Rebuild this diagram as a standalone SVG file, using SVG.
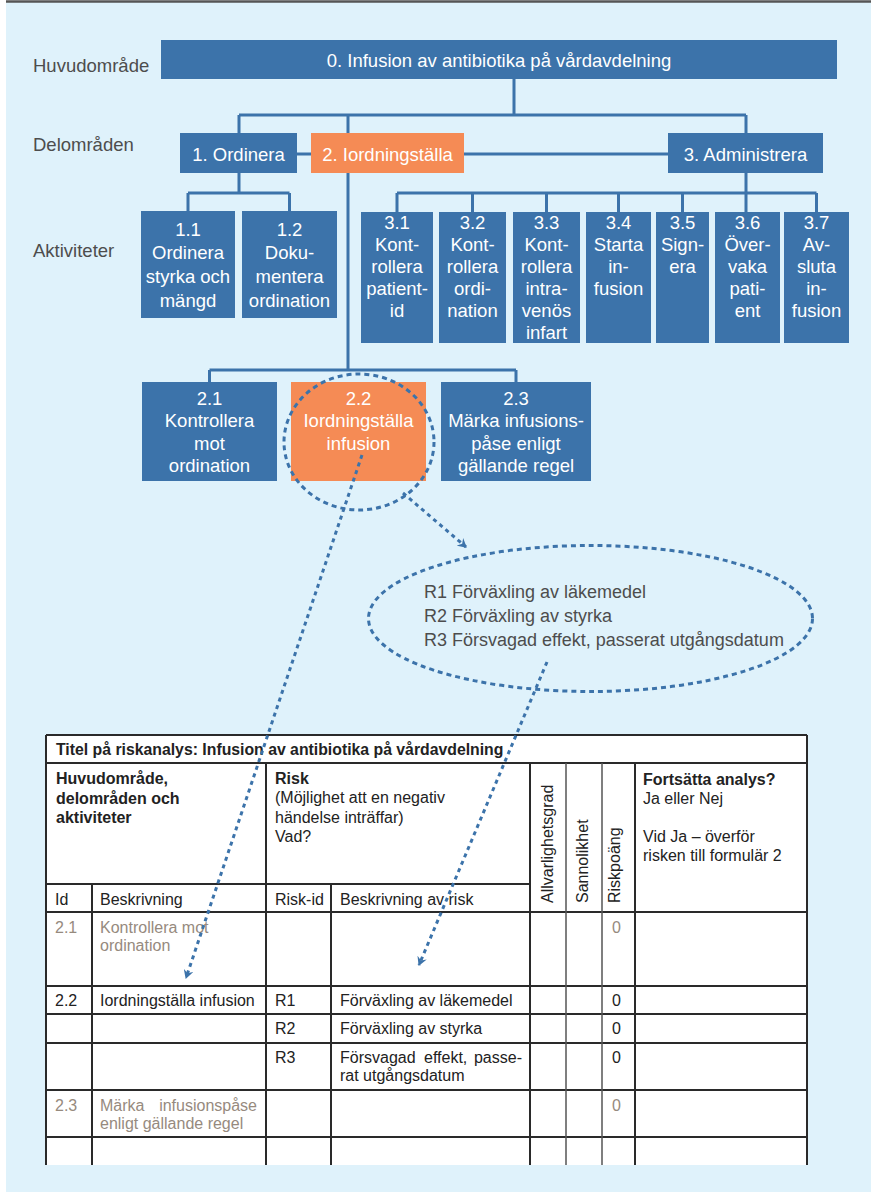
<svg xmlns="http://www.w3.org/2000/svg" width="871" height="1192" viewBox="0 0 871 1192">
<style>
.bg{fill:#dff2fb}
.box{fill:#3c73aa}
.obox{fill:#f58b55}
.bt{font-family:"Liberation Sans",Arial,sans-serif;font-size:18.5px;fill:#fff;text-anchor:middle}
.lbl{font-family:"Liberation Sans",Arial,sans-serif;font-size:18.5px;fill:#4d4d4d}
.rt{font-family:"Liberation Sans",Arial,sans-serif;font-size:18px;fill:#4d4d4d}
.con{fill:none;stroke:#3c73aa;stroke-width:3}
.dash{fill:none;stroke:#3c73aa;stroke-width:3;stroke-dasharray:5 4}
.dot{fill:none;stroke:#3c73aa;stroke-width:3;stroke-dasharray:4 4}
.tl{stroke:#2a2a2a;stroke-width:2;fill:none}
.tg{stroke:#555;stroke-width:1.5;fill:none}
.tt{font-family:"Liberation Sans",Arial,sans-serif;font-size:16px;fill:#222}
.tb{font-family:"Liberation Sans",Arial,sans-serif;font-size:16px;fill:#222;font-weight:bold}
.gr{fill:#968a7e}
</style>
<defs>
<marker id="arr" viewBox="0 0 10 10" refX="8" refY="5" markerWidth="10" markerHeight="10" markerUnits="userSpaceOnUse" orient="auto">
<path d="M0,0 L9,5 L0,10 L3,5 Z" fill="#3c73aa"/>
</marker>
</defs>
<rect class="bg" x="6" y="2" width="865" height="1190"/>
<line x1="6" y1="1.5" x2="871" y2="1.5" stroke="#555" stroke-width="2.5"/>

<g id="labels">
<text class="lbl" x="33" y="72">Huvudområde</text>
<text class="lbl" x="33" y="151">Delområden</text>
<text class="lbl" x="33" y="257">Aktiviteter</text>
</g>

<g id="connectors">
<path class="con" d="M514,79 V115 M239,115 H746 M239,115 V133 M348,115 V133 M746,115 V133"/>
<path class="con" d="M297,154 H311 M464,154 H668"/>
<path class="con" d="M239,173 V193 M188,193 H289.5 M188,193 V211 M289.5,193 V211"/>
<path class="con" d="M746,173 V193 M397,193 H816.5 M397,193 V212 M472.5,193 V212 M546.5,193 V212 M618.5,193 V212 M682.5,193 V212 M746,193 V212 M816.5,193 V212"/>
<path class="con" d="M348,173 V370 M209.5,370 H516 M209.5,370 V382 M516,370 V382"/>
</g>

<g id="n0"><rect class="box" x="161" y="40" width="676" height="39"/><text class="bt" x="499" y="67">0. Infusion av antibiotika på vårdavdelning</text></g>
<g id="n1"><rect class="box" x="180" y="133" width="117" height="40"/><text class="bt" x="238.5" y="161">1. Ordinera</text></g>
<g id="n2"><rect class="obox" x="311" y="133" width="153" height="40"/><text class="bt" x="387.5" y="161">2. Iordningställa</text></g>
<g id="n3"><rect class="box" x="668" y="133" width="155" height="40"/><text class="bt" x="745.5" y="161">3. Administrera</text></g>

<g id="n11"><rect class="box" x="141" y="211" width="94" height="107"/><text class="bt" x="188" y="235.5">1.1<tspan x="188" dy="23.7">Ordinera</tspan><tspan x="188" dy="23.7">styrka och</tspan><tspan x="188" dy="23.7">mängd</tspan></text></g>
<g id="n12"><rect class="box" x="242" y="211" width="95" height="107"/><text class="bt" x="289.5" y="235.5">1.2<tspan x="289.5" dy="23.7">Doku-</tspan><tspan x="289.5" dy="23.7">mentera</tspan><tspan x="289.5" dy="23.7">ordination</tspan></text></g>

<g id="n31"><rect class="box" x="361" y="212" width="72" height="131"/><text class="bt" x="397" y="228.5">3.1<tspan x="397" dy="22">Kont-</tspan><tspan x="397" dy="22">rollera</tspan><tspan x="397" dy="22">patient-</tspan><tspan x="397" dy="22">id</tspan></text></g>
<g id="n32"><rect class="box" x="439" y="212" width="67" height="131"/><text class="bt" x="472.5" y="228.5">3.2<tspan x="472.5" dy="22">Kont-</tspan><tspan x="472.5" dy="22">rollera</tspan><tspan x="472.5" dy="22">ordi-</tspan><tspan x="472.5" dy="22">nation</tspan></text></g>
<g id="n33"><rect class="box" x="513" y="212" width="67" height="131"/><text class="bt" x="546.5" y="228.5">3.3<tspan x="546.5" dy="22">Kont-</tspan><tspan x="546.5" dy="22">rollera</tspan><tspan x="546.5" dy="22">intra-</tspan><tspan x="546.5" dy="22">venös</tspan><tspan x="546.5" dy="22">infart</tspan></text></g>
<g id="n34"><rect class="box" x="586" y="212" width="65" height="131"/><text class="bt" x="618.5" y="228.5">3.4<tspan x="618.5" dy="22">Starta</tspan><tspan x="618.5" dy="22">in-</tspan><tspan x="618.5" dy="22">fusion</tspan></text></g>
<g id="n35"><rect class="box" x="656" y="212" width="53" height="131"/><text class="bt" x="682.5" y="228.5">3.5<tspan x="682.5" dy="22">Sign-</tspan><tspan x="682.5" dy="22">era</tspan></text></g>
<g id="n36"><rect class="box" x="715" y="212" width="65" height="131"/><text class="bt" x="747.5" y="228.5">3.6<tspan x="747.5" dy="22">Över-</tspan><tspan x="747.5" dy="22">vaka</tspan><tspan x="747.5" dy="22">pati-</tspan><tspan x="747.5" dy="22">ent</tspan></text></g>
<g id="n37"><rect class="box" x="784" y="212" width="65" height="131"/><text class="bt" x="816.5" y="228.5">3.7<tspan x="816.5" dy="22">Av-</tspan><tspan x="816.5" dy="22">sluta</tspan><tspan x="816.5" dy="22">in-</tspan><tspan x="816.5" dy="22">fusion</tspan></text></g>

<g id="n21"><rect class="box" x="142" y="382" width="135" height="99"/><text class="bt" x="209.5" y="404.5">2.1<tspan x="209.5" dy="22.5">Kontrollera</tspan><tspan x="209.5" dy="22.5">mot</tspan><tspan x="209.5" dy="22.5">ordination</tspan></text></g>
<g id="n22"><rect class="obox" x="291" y="382" width="135" height="99"/><text class="bt" x="358.5" y="404.5">2.2<tspan x="358.5" dy="22.5">Iordningställa</tspan><tspan x="358.5" dy="22.5">infusion</tspan></text></g>
<g id="n23"><rect class="box" x="441" y="382" width="150" height="99"/><text class="bt" x="516" y="404.5">2.3<tspan x="516" dy="22.5">Märka infusions-</tspan><tspan x="516" dy="22.5">påse enligt</tspan><tspan x="516" dy="22.5">gällande regel</tspan></text></g>

<g id="risks">
<text class="rt" x="424" y="598">R1 Förväxling av läkemedel</text>
<text class="rt" x="424" y="622">R2 Förväxling av styrka</text>
<text class="rt" x="424" y="646">R3 Försvagad effekt, passerat utgångsdatum</text>
</g>

<g id="table">
<rect x="46" y="735" width="761" height="430" fill="#fff"/>
<path class="tl" d="M46,735 H807 M46,735 V1165 M807,735 V1165"/>
<path class="tl" d="M46,763 H807 M46,884 H530 M46,912 H807 M46,986 H807 M46,1014 H807 M46,1043 H807 M46,1090 H807 M46,1137 H807"/>
<path class="tl" d="M92,884 V1165 M266,763 V1165 M331,884 V1165 M530,763 V1165 M635,763 V1165"/>
<path class="tg" d="M566,763 V1165 M602,763 V1165"/>
<text class="tb" x="56" y="755" style="font-size:15.8px">Titel på riskanalys: Infusion av antibiotika på vårdavdelning</text>
<text class="tb" x="56" y="784">Huvudområde,<tspan x="56" dy="19.5">delområden och</tspan><tspan x="56" dy="19.5">aktiviteter</tspan></text>
<text class="tb" x="275" y="784">Risk</text>
<text class="tt" x="275" y="803">(Möjlighet att en negativ<tspan x="275" dy="19.5">händelse inträffar)</tspan><tspan x="275" dy="19.5">Vad?</tspan></text>
<text class="tt" transform="translate(553,903) rotate(-90)">Allvarlighetsgrad</text>
<text class="tt" transform="translate(588,903) rotate(-90)">Sannolikhet</text>
<text class="tt" transform="translate(620,903) rotate(-90)">Riskpoäng</text>
<text class="tb" x="643" y="785">Fortsätta analys?</text>
<text class="tt" x="643" y="804">Ja eller Nej</text>
<text class="tt" x="643" y="842">Vid Ja – överför<tspan x="643" dy="19">risken till formulär 2</tspan></text>
<text class="tt" x="55" y="905">Id</text>
<text class="tt" x="100" y="905">Beskrivning</text>
<text class="tt" x="275" y="905">Risk-id</text>
<text class="tt" x="340" y="905">Beskrivning av risk</text>
<text class="tt gr" x="55" y="933">2.1</text>
<text class="tt gr" x="100" y="933">Kontrollera mot<tspan x="100" dy="18">ordination</tspan></text>
<text class="tt gr" x="612" y="933">0</text>
<text class="tt" x="55" y="1006">2.2</text>
<text class="tt" x="100" y="1006">Iordningställa infusion</text>
<text class="tt" x="275" y="1006">R1</text>
<text class="tt" x="340" y="1006">Förväxling av läkemedel</text>
<text class="tt" x="612" y="1006">0</text>
<text class="tt" x="275" y="1034">R2</text>
<text class="tt" x="340" y="1034">Förväxling av styrka</text>
<text class="tt" x="612" y="1034">0</text>
<text class="tt" x="275" y="1063">R3</text>
<text class="tt" x="340" y="1063">Försvagad</text>
<text class="tt" x="424" y="1063">effekt,</text>
<text class="tt" x="522" y="1063" text-anchor="end">passe-</text>
<text class="tt" x="340" y="1081">rat utgångsdatum</text>
<text class="tt" x="612" y="1063">0</text>
<text class="tt gr" x="55" y="1111">2.3</text>
<text class="tt gr" x="100" y="1111">Märka</text>
<text class="tt gr" x="257" y="1111" text-anchor="end">infusionspåse</text>
<text class="tt gr" x="100" y="1129">enligt gällande regel</text>
<text class="tt gr" x="612" y="1111">0</text>
</g>

<g id="callouts">
<ellipse class="dash" cx="359" cy="442" rx="75" ry="68"/>
<ellipse class="dash" cx="590.5" cy="618.5" rx="222" ry="73"/>
<path class="dot" d="M362,455 L186,978" marker-end="url(#arr)"/>
<path class="dot" d="M403,493 L466,547" marker-end="url(#arr)"/>
<path class="dot" d="M547,662 L419,965" marker-end="url(#arr)"/>
</g>
</svg>
